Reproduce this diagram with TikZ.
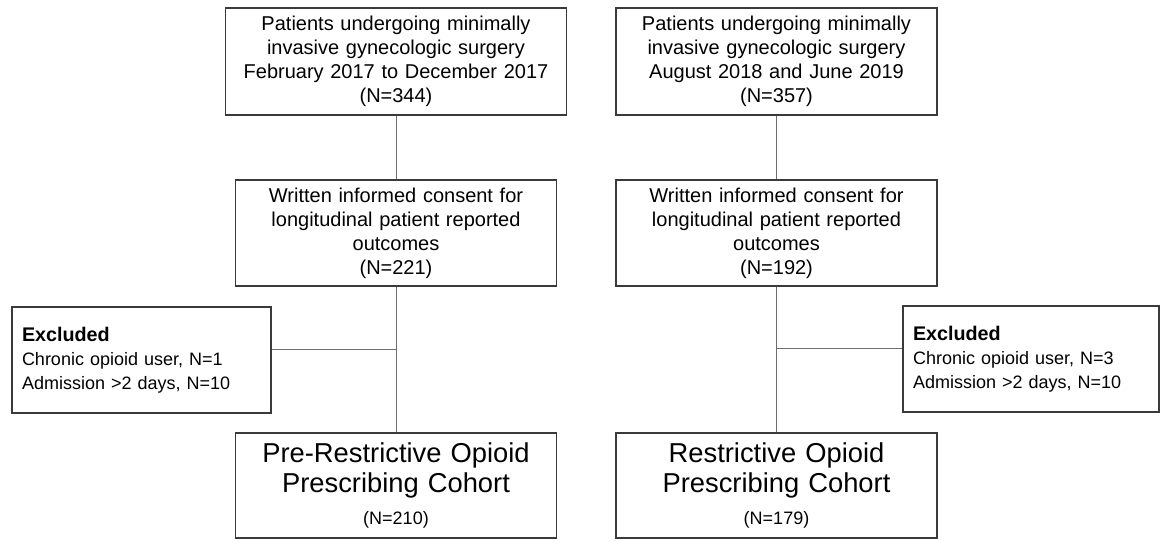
\documentclass[tikz,border=0pt]{standalone}
\usepackage{fontspec}
\setmainfont{Liberation Sans}
\usetikzlibrary{calc, positioning}
\definecolor{boxline}{HTML}{3A3A3A}
\definecolor{linkline}{HTML}{6E6E6E}
\tikzset{
    box/.style = {draw=boxline, line width=0.9pt, align=center, inner xsep=0pt, inner ysep=0pt,
                  font=\fontsize{15}{18}\selectfont},
    stage/.style = {box, text width=240.75pt, minimum height=79.5pt},
    cohort/.style = {box, text width=240.75pt, minimum height=78.75pt,
                  font=\fontsize{20.5}{22.5}\selectfont},
    excl/.style = {draw=boxline, line width=0.9pt, align=left, inner xsep=7.5pt, inner ysep=0pt,
                  minimum height=79.5pt, font=\fontsize{13.5}{18}\selectfont},
    link/.style = {draw=linkline, line width=0.7pt}
}
\newcommand{\exhead}{{\fontsize{14.8}{18}\selectfont\bfseries Excluded}}
\begin{document}
\begin{tikzpicture}[x=0.75pt, y=-0.75pt]
        \useasboundingbox (0,0) rectangle (1160,540);

        %nodes

        \node(pre1)[stage, text width=255.75pt, minimum height=80.25pt] at (396,61.5)
            {Patients undergoing minimally\\ invasive gynecologic surgery\\ February 2017 to December 2017\\ (N=344)};
        \node(pre2)[stage] at (396,233)
            {Written informed consent for\\ longitudinal patient reported\\ outcomes\\ (N=221)};
        \node(pre3)[cohort] at (396,485.5)
            {Pre-Restrictive Opioid\\ Prescribing Cohort\\[1.5pt] \fontsize{13.5}{22.5}\selectfont (N=210)};
        \node(preex)[excl, text width=179.25pt] at (141.5,360)
            {\exhead\\ Chronic opioid user, N=1\\ Admission >2 days, N=10};

        \node(post1)[stage, minimum height=80.25pt] at (776.5,61.5)
            {Patients undergoing minimally\\ invasive gynecologic surgery\\ August 2018 and June 2019\\ (N=357)};
        \node(post2)[stage] at (776.5,233)
            {Written informed consent for\\ longitudinal patient reported\\ outcomes\\ (N=192)};
        \node(post3)[cohort] at (776.5,485.5)
            {Restrictive Opioid\\ Prescribing Cohort\\[1.5pt] \fontsize{13.5}{22.5}\selectfont (N=179)};
        \node(postex)[excl, text width=177pt] at (1031,359)
            {\exhead\\ Chronic opioid user, N=3\\ Admission >2 days, N=10};

        %junctions

        \coordinate(prej) at (396,349);
        \coordinate(postj) at (776.5,348);

        %lines

        \draw[link] (pre1) -- (pre2);
        \draw[link] (pre2) -- (pre3);
        \draw[link] (preex.east |- prej) -- (prej);
        \draw[link] (post1) -- (post2);
        \draw[link] (post2) -- (post3);
        \draw[link] (postj) -- (postex.west |- postj);
    \end{tikzpicture}
\end{document}
